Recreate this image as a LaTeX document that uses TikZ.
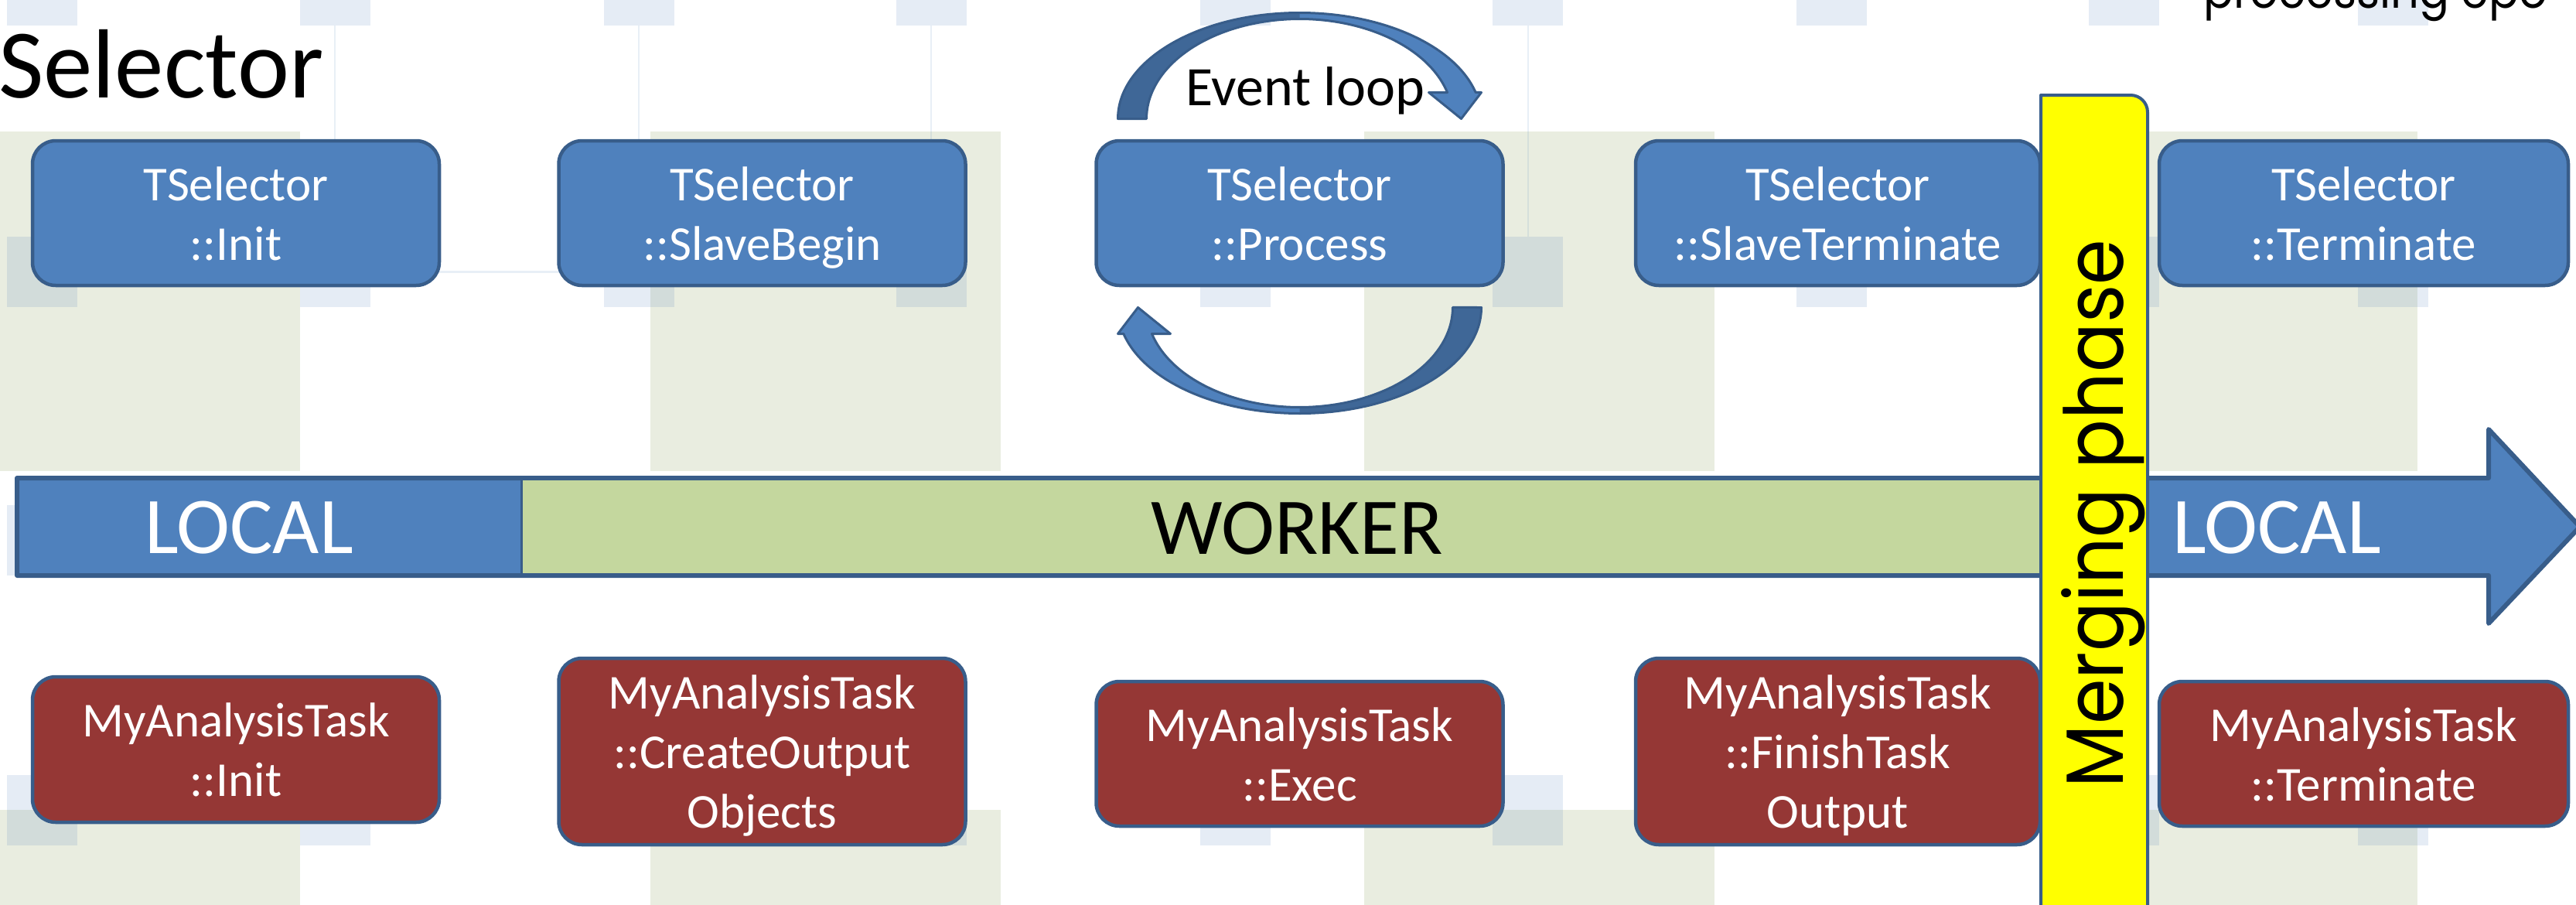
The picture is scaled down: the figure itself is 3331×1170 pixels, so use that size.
\documentclass[tikz,border=0pt]{standalone}
\usepackage{fontspec}
\setmainfont{Carlito}
\newfontfamily\gothic[FakeStretch=0.9]{Poppins}
\usepackage{tikz}
\usetikzlibrary{positioning}

\definecolor{selblue}{HTML}{4F81BD}
\definecolor{selblueshade}{HTML}{3F6797}
\definecolor{boxline}{HTML}{385D8A}
\definecolor{taskred}{HTML}{953735}
\definecolor{workergreen}{HTML}{C4D79E}
\definecolor{bggreen}{HTML}{E9EDE0}
\definecolor{mergeyellow}{HTML}{FFFF00}

\newcommand{\boxfont}{\fontsize{63}{77}\selectfont}
\newcommand{\boxstrut}{\rule[-16.5pt]{0pt}{77pt}}
% band of the event loop arrow, around the centre of TSelector::Process
\newcommand{\loopband}{(-235,122) arc[start angle=180, end angle=14.4, x radius=235, y radius=137]
  -- (235,156) -- (209,122) -- (167,156) -- (191,156)
  arc[start angle=15.3, end angle=180, x radius=198, y radius=129] -- cycle}

\tikzset{
  selbox/.style={draw=boxline, line width=4.5pt, fill=selblue, rounded corners=30pt,
    text=white, font=\boxfont, align=center, inner sep=0pt,
    minimum width=526pt, minimum height=187pt},
  taskbox/.style={selbox, fill=taskred},
  phaselabel/.style={font=\fontsize{104}{104}\selectfont, anchor=base, inner sep=0pt},
  bgsquare/.style={fill=selblue, fill opacity=0.15},
  bgline/.style={draw=selblue, draw opacity=0.13, line width=2.5pt},
}

\begin{document}
\begin{tikzpicture}[x=1pt, y=1pt, line join=round]
	\useasboundingbox (0,0) rectangle (3331,-1170);
	\clip (0,0) rectangle (3331,-1170);
	
	% slide background
	\foreach \gx in {-65,841,1764,2673} {
		\fill[bggreen] (\gx,-170) rectangle ++(453,-439);
		\fill[bggreen] (\gx,-1047) rectangle ++(453,-439);
	}
	\foreach \sx in {9,388,781,1159,1552,1930,2323,2701,3049}
		\foreach \sy in {58,-306,-653,-1002}
			\fill[bgsquare] (\sx,\sy) rectangle ++(91,-91);
	\foreach \lx in {433,826,1204,1976}
		\draw[bgline] (\lx,-33) -- (\lx,-306);
	\draw[bgline] (433,-351.5) -- (826,-351.5);
	
	\node[font=\fontsize{127}{127}\selectfont, anchor=base west, inner sep=0pt] (title) at (-2,-126) {Selector};
	\node[font=\gothic\fontsize{64}{64}\selectfont, anchor=base west, inner sep=0pt] (epoch) at (2849,-10) {processing epo};
	
	% time line
	\draw[draw=boxline, line width=6pt, fill=selblue] (22,-618) -- (3218,-618) -- (3218,-555) -- (3336,-681)
		-- (3218,-806) -- (3218,-744) -- (22,-744) -- cycle;
	\fill[workergreen] (674,-621) rectangle (2640,-741);
	\draw[boxline, line width=3pt] (674,-621) -- (674,-741);
	
	% TSelector row
	\node[selbox] (selinit) at (305,-275.5) {\boxstrut TSelector\\\boxstrut ::Init};
	\node[selbox] (selbegin) at (985.5,-275.5) {\boxstrut TSelector\\\boxstrut ::SlaveBegin};
	\node[selbox] (selproc) at (1680.5,-275.5) {\boxstrut TSelector\\\boxstrut ::Process};
	\node[selbox, minimum width=523pt] (selslterm) at (2376.5,-275.5) {\boxstrut TSelector\\\boxstrut ::SlaveTerminate};
	\node[selbox, minimum width=529pt] (selterm) at (3056.5,-275.5) {\boxstrut TSelector\\\boxstrut ::Terminate};
	
	% MyAnalysisTask row
	\node[taskbox, minimum height=188pt] (taskinit) at (305,-969) {\boxstrut MyAnalysisTask\\\boxstrut ::Init};
	\node[taskbox, minimum height=241pt] (taskcreate) at (985.5,-971.5) {\boxstrut MyAnalysisTask\\\boxstrut ::CreateOutput\\\boxstrut Objects};
	\node[taskbox] (taskexec) at (1680.5,-974.5) {\boxstrut MyAnalysisTask\\\boxstrut ::Exec};
	\node[taskbox, minimum height=241pt, minimum width=523pt] (taskfinish) at (2376.5,-971.5) {\boxstrut MyAnalysisTask\\\boxstrut ::FinishTask\\\boxstrut Output};
	\node[taskbox, minimum width=529pt] (taskterm) at (3056.5,-974.5) {\boxstrut MyAnalysisTask\\\boxstrut ::Terminate};
	
	% event loop
	\begin{scope}[shift={(selproc.center)}]
		\fill[selblue] \loopband;
		\begin{scope}
			\clip (-300,0) rectangle (0,300);
			\fill[selblueshade] \loopband;
		\end{scope}
		\draw[boxline, line width=3pt] \loopband;
	\end{scope}
	\begin{scope}[shift={(selproc.center)}, rotate=180]
		\fill[selblue] \loopband;
		\begin{scope}
			\clip (-300,0) rectangle (0,300);
			\fill[selblueshade] \loopband;
		\end{scope}
		\draw[boxline, line width=3pt] \loopband;
	\end{scope}
	\node[font=\fontsize{72}{72}\selectfont, anchor=base, inner sep=0pt] (evloop) at (1687.5,-136) {Event loop};
	
	% merging phase
	\draw[draw=boxline, line width=4pt, fill=mergeyellow] (2639,-1200) -- (2639,-123) -- (2755,-123)
		arc[start angle=90, end angle=0, radius=22] -- (2777,-1200) -- cycle;
	\node[font=\gothic\fontsize{105}{105}\selectfont, rotate=90, anchor=base, inner sep=0pt] (merging) at (2745,-664) {Merging phase};
	
	\node[phaselabel, text=white] (localin) at (322,-715) {LOCAL};
	\node[phaselabel] (worker) at (1677,-716) {WORKER};
	\node[phaselabel, text=white] (localout) at (2944,-715) {LOCAL};
\end{tikzpicture}
\end{document}
